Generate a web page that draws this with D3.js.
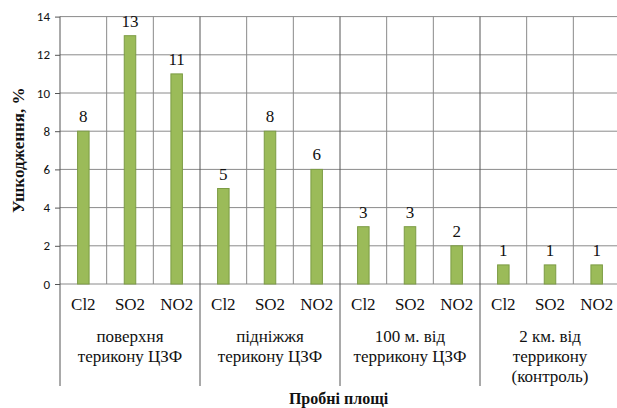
<!DOCTYPE html>
<html><head><meta charset="utf-8">
<script src="https://cdn.jsdelivr.net/npm/d3@7"></script>
<style>body{margin:0;background:#fff}svg{display:block}</style>
</head><body>
<svg id="c" width="617" height="408"></svg>
<script>
const groups = [
  ["поверхня","терикону ЦЗФ"],
  ["підніжжя","терикону ЦЗФ"],
  ["100 м. від","террикону ЦЗФ"],
  ["2 км. від","террикону","(контроль)"]
];
const gases = ["Cl2","SO2","NO2"];
const values = [8,13,11, 5,8,6, 3,3,2, 1,1,1];
const yTicks = [0,2,4,6,8,10,12,14];
const yTitle = "Ушкодження, %";
const xTitle = "Пробні площі";

const svg = d3.select("#c");
const L = 60, R = 620, T = 16.6, B = 284, SEP_B = 386;
const cats = [];
groups.forEach((g,gi)=>gases.forEach((s,si)=>cats.push({gi, si, key: gi+"_"+si, gas: s, v: values[gi*3+si]})));
const x = d3.scaleBand().domain(cats.map(d=>d.key)).range([L,R]).paddingInner(0).paddingOuter(0);
const y = d3.scaleLinear().domain([0,14]).range([B,T]);
const bw = x.bandwidth();
const gridColor = "#8a8a8a";

// horizontal gridlines
svg.append("g").selectAll("line").data(yTicks).join("line")
  .attr("x1",L).attr("x2",R).attr("y1",d=>y(d)).attr("y2",d=>y(d))
  .attr("stroke",gridColor).attr("stroke-width",1);

// vertical category lines
svg.append("g").selectAll("line").data(cats.slice(1)).join("line")
  .attr("x1",d=>x(d.key)).attr("x2",d=>x(d.key))
  .attr("y1",T).attr("y2",d=>d.si===0?SEP_B:B)
  .attr("stroke",d=>d.si===0?"#555":gridColor).attr("stroke-width",1);

// left axis
const ax = svg.append("g").attr("transform",`translate(${L},0)`)
  .call(d3.axisLeft(y).tickValues(yTicks).tickSize(5).tickPadding(5));
ax.select(".domain").remove();
ax.selectAll(".tick line").attr("stroke","#555");
ax.selectAll(".tick text").attr("font-family","Carlito, 'Open Sans', 'Liberation Sans', sans-serif")
  .attr("font-size",13).attr("fill","#111");
svg.append("line").attr("x1",L).attr("x2",L).attr("y1",T).attr("y2",SEP_B).attr("stroke","#555");

// bars
const barW = 11.5;
svg.append("g").selectAll("rect").data(cats).join("rect")
  .attr("x",d=>x(d.key)+bw/2-barW/2).attr("width",barW)
  .attr("y",d=>y(d.v)).attr("height",d=>B-y(d.v))
  .attr("fill","#9BBB59").attr("stroke","#7C9C44").attr("stroke-width",1);

// data labels
const serif = "'Liberation Serif','Times New Roman',serif";
svg.append("g").selectAll("text").data(cats).join("text")
  .attr("x",d=>x(d.key)+bw/2).attr("y",d=>y(d.v)-9)
  .attr("text-anchor","middle").attr("font-family",serif).attr("font-size",17).attr("fill","#111")
  .text(d=>d.v);

// gas labels
svg.append("g").selectAll("text").data(cats).join("text")
  .attr("x",d=>x(d.key)+bw/2).attr("y",310)
  .attr("text-anchor","middle").attr("font-family",serif).attr("font-size",17).attr("fill","#111")
  .text(d=>d.gas);

// group labels
groups.forEach((g,gi)=>{
  const cx = (x(gi+"_0") + x(gi+"_2") + bw)/2;
  const t = svg.append("text").attr("text-anchor","middle").attr("font-family",serif)
    .attr("font-size",17).attr("fill","#111");
  g.forEach((line,li)=>t.append("tspan").attr("x",cx).attr("y",342+li*20).text(line));
});

// axis titles
svg.append("text").attr("x",(L+R-3)/2).attr("y",404).attr("text-anchor","middle")
  .attr("font-family",serif).attr("font-weight","bold").attr("font-size",16).attr("fill","#111").text(xTitle);
svg.append("text").attr("transform",`translate(24,${(T+B)/2}) rotate(-90)`).attr("text-anchor","middle")
  .attr("font-family",serif).attr("font-weight","bold").attr("font-size",17).attr("fill","#111").text(yTitle);
</script>
</body></html>
